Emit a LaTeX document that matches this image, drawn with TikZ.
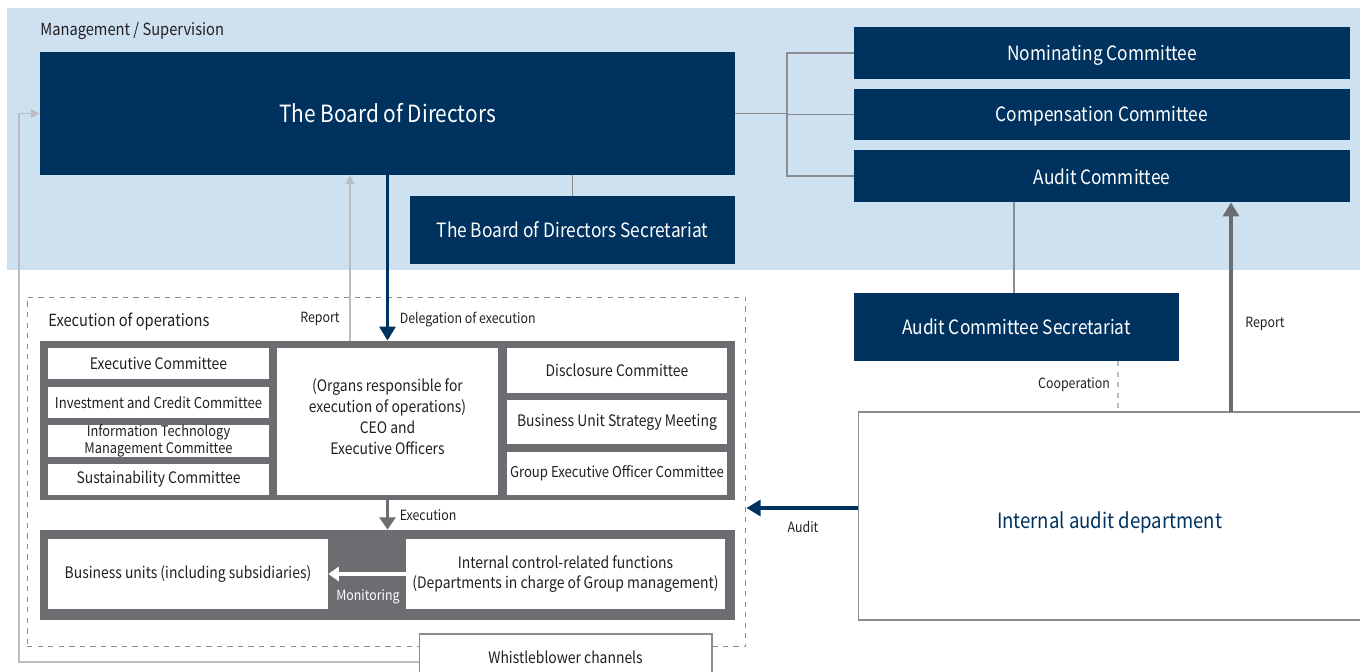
\documentclass[tikz,border=0pt]{standalone}
\usepackage{fontspec}
\setmainfont{Noto Sans CJK JP}[FakeStretch=0.88]
\usetikzlibrary{arrows.meta}
\definecolor{navy}{HTML}{00325F}
\definecolor{skyband}{HTML}{CDE1F1}
\definecolor{panelgray}{HTML}{6B6D71}
\definecolor{linegray}{HTML}{8A8C8F}
\definecolor{palegray}{HTML}{B9BCC0}
\definecolor{ink}{HTML}{231F20}
\newcommand{\nudge}[2]{\raisebox{#1}[\height][\depth]{#2}}

\begin{document}
\begin{tikzpicture}[x=0.02cm,y=-0.02cm,
    navybox/.style = {fill=navy, text=white, inner sep=0pt,
        align=center, font=\fontsize{11.2}{13}\selectfont},
    panel/.style = {fill=panelgray, inner sep=0pt},
    whitebox/.style = {fill=white, text=ink, inner sep=0pt, align=center,
        font=\fontsize{9}{9.5}\selectfont},
    lbl/.style = {text=ink, inner sep=0pt, font=\fontsize{8}{9}\selectfont},
    conn/.style = {draw=linegray, line width=0.8pt}]
    \useasboundingbox (0,0) rectangle (1360,672);
    \fill[skyband] (7,8) rectangle (1360,270);
    \node[anchor=west, lbl, font=\fontsize{9.5}{11}\selectfont] (mgmt) at (40,31) {Management / Supervision};

    % management side
    \node[navybox, minimum width=13.9cm, minimum height=2.46cm,
        font=\fontsize{13.5}{15}\selectfont] (bod) at (387.5,113.5) {The Board of Directors};
    \node[navybox, minimum width=6.5cm, minimum height=1.36cm] (bodsec) at (572.5,230) {The Board of Directors Secretariat};
    \node[navybox, minimum width=9.92cm, minimum height=1.04cm] (nom) at (1102,53) {\nudge{-0.4mm}{Nominating Committee}};
    \node[navybox, minimum width=9.92cm, minimum height=1.02cm] (comp) at (1102,114.5) {\nudge{-0.4mm}{Compensation Committee}};
    \node[navybox, minimum width=9.92cm, minimum height=1.04cm] (audit) at (1102,176) {\nudge{-0.2mm}{Audit Committee}};
    \node[navybox, minimum width=6.5cm, minimum height=1.36cm] (acsec) at (1016.5,327) {Audit Committee Secretariat};
    \node[draw=linegray, line width=0.6pt, fill=white, text=navy, minimum width=10.06cm, minimum height=4.16cm,
        font=\fontsize{12}{14}\selectfont] (iad) at (1109.5,516) {\nudge{-1.4mm}{Internal audit department}};

    % execution side
    \node[draw=linegray, dashed, line width=0.6pt, minimum width=14.38cm, minimum height=7cm] (execbox) at (386.5,472) {};
    \node[anchor=west, lbl, font=\fontsize{9.5}{11}\selectfont] (execlbl) at (48,322) {Execution of operations};
    \node[panel, minimum width=13.9cm, minimum height=3.18cm] (execp) at (387.5,420.5) {};
    \node[whitebox, minimum width=4.42cm, minimum height=0.62cm] (ec) at (158.5,363.5) {Executive Committee};
    \node[whitebox, minimum width=4.42cm, minimum height=0.62cm,
        font=\fontsize{8.5}{9}\selectfont] (icc) at (158.5,402.5) {Investment and Credit Committee};
    \node[whitebox, minimum width=4.42cm, minimum height=0.64cm,
        font=\fontsize{8.3}{8.3}\selectfont] (itm) at (158.5,441) {Information Technology\\Management Committee};
    \node[whitebox, minimum width=4.42cm, minimum height=0.62cm] (sus) at (158.5,479.5) {Sustainability Committee};
    \node[whitebox, minimum width=4.42cm, minimum height=2.94cm,
        font=\fontsize{9}{12}\selectfont] (ceo) at (387.5,421.5) {\nudge{0.6mm}{\begin{tabular}{@{}c@{}}(Organs responsible for\\execution of operations)\\CEO and\\Executive Officers\end{tabular}}};
    \node[whitebox, minimum width=4.4cm, minimum height=0.9cm] (disc) at (617,370.5) {Disclosure Committee};
    \node[whitebox, minimum width=4.4cm, minimum height=0.88cm] (busm) at (617,422) {Business Unit Strategy Meeting};
    \node[whitebox, minimum width=4.4cm, minimum height=0.86cm,
        font=\fontsize{8.5}{9}\selectfont] (geoc) at (617,473.5) {Group Executive Officer Committee};
    \node[panel, minimum width=13.9cm, minimum height=1.8cm] (botp) at (387.5,575) {};
    \node[whitebox, minimum width=5.6cm, minimum height=1.4cm] (bu) at (188,574) {Business units (including subsidiaries)};
    \node[whitebox, minimum width=6.38cm, minimum height=1.4cm,
        font=\fontsize{9}{11}\selectfont] (icf) at (565.5,574) {Internal control-related functions\\(Departments in charge of Group management)};
    \node[draw=linegray, line width=0.6pt, fill=white, text=ink, minimum width=5.86cm, minimum height=0.92cm,
        font=\fontsize{9}{10}\selectfont] (wb) at (565.5,657) {Whistleblower channels};

    % connectors
    \coordinate (brk) at (787,113.5);
    \coordinate (wbcorner) at (19,662);
    \coordinate (rep) at (350,341);
    \coordinate (coop) at (1118,361);
    \coordinate (repr) at (1231,412);
    \coordinate (aud) at (858,508);
    \draw[conn] (bod.east) -- (brk) (brk) |- (nom.west) (brk) |- (comp.west) (brk) |- (audit.west);
    \draw[conn] (bodsec.north) -- (bodsec.north |- bod.south);
    \draw[conn] (acsec.north -| 1014,0) -- (audit.south -| 1014,0);
    \draw[conn, dashed, draw=palegray] (coop) -- (coop |- iad.north);
    \draw[draw=palegray, line width=0.8pt, -{Triangle[length=5pt,width=5pt]}]
        (wb.west |- wbcorner) -- (wbcorner) -- (wbcorner |- bod.west) -- (bod.west);
    \draw[draw=palegray, line width=0.8pt, -{Triangle[length=5pt,width=5pt]}] (rep) -- (rep |- bod.south);
    \draw[draw=navy, line width=2pt, -{Triangle[length=8pt,width=9pt]}] (bod.south) -- (execp.north);
    \draw[draw=panelgray, line width=2.2pt, -{Triangle[length=7pt,width=9pt]}] (execp.south) -- (botp.north);
    \draw[draw=white, line width=2.2pt, -{Triangle[length=6pt,width=8pt]}] (icf.west) -- (bu.east);
    \draw[draw=panelgray, line width=2.4pt, -{Triangle[length=8pt,width=9pt]}] (repr) -- (repr |- audit.south);
    \draw[draw=navy, line width=2pt, -{Triangle[length=8pt,width=9pt]}] (aud) -- (aud -| execbox.east);

    % labels
    \path[every node/.style={lbl}]
        (rep) ++(-30,-22) node (replbl) {Report}
        (bod.south) ++(12,144) node[anchor=west] (dellbl) {Delegation of execution}
        (execp.south) ++(12,15) node[anchor=west] (exlbl) {Execution}
        (coop) ++(-44,24) node (cooplbl) {Cooperation}
        (repr) ++(34,-88) node (reprlbl) {Report}
        (aud) ++(-55,19) node (audlbl) {Audit};
    \node[text=white, inner sep=0pt, font=\fontsize{8}{9}\selectfont] (monlbl) at (368,597) {Monitoring};
\end{tikzpicture}
\end{document}
